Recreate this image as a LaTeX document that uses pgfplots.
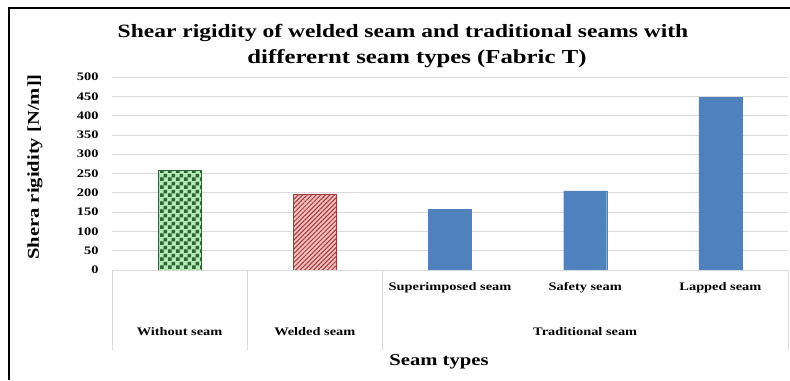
\documentclass[border=0pt]{standalone}
\usepackage{pgfplots}
\pgfplotsset{compat=1.18}
\usepackage{fontspec}
\setmainfont{Liberation Serif}[FakeStretch=1.25]
\usetikzlibrary{patterns,patterns.meta}
\pgfdeclarepatternformonly{bigchecker}{\pgfpointorigin}{\pgfqpoint{8bp}{8bp}}{\pgfqpoint{8bp}{8bp}}{%
 \pgfpathrectangle{\pgfpointorigin}{\pgfqpoint{4bp}{4bp}}%
 \pgfpathrectangle{\pgfqpoint{4bp}{4bp}}{\pgfqpoint{4bp}{4bp}}%
 \pgfusepath{fill}}
\definecolor{dgreen}{HTML}{2A6636}
\definecolor{lgreen}{HTML}{B5E8B5}
\definecolor{dred}{HTML}{9E3A3A}
\definecolor{pinkc}{HTML}{F5BDBD}
\definecolor{barblue}{HTML}{4F81BD}
\definecolor{gridc}{HTML}{D9D9D9}
\newcommand\fs[1]{\fontsize{#1bp}{#1bp}\selectfont\bfseries}
\begin{document}
\begin{tikzpicture}[x=1bp,y=1bp]
\path[use as bounding box] (0,0) rectangle (790,380);
\draw[line width=2.5bp] (9,0) -- (9,372) -- (790,372);
\node[font=\fs{18.8}] at (403,347) {Shear rigidity of welded seam and traditional seams with};
\node[font=\fs{19.8}] at (417,321) {differernt seam types (Fabric T)};
\node[font=\fs{16.5},rotate=90] at (35,213) {Shera rigidity [N/m]]};
\node[font=\fs{16.5}] at (439,18) {Seam types};
\begin{axis}[
  at={(112bp,110bp)}, anchor=south west,
  width=676bp, height=193bp, scale only axis,
  xmin=-0.5, xmax=4.5, ymin=0, ymax=500,
  ytick distance=50,
  xtick={0,1,2,3,4},
  xticklabels={,,Superimposed seam,Safety seam,Lapped seam},
  xticklabel style={anchor=center, yshift=-18bp, font=\fs{11.5}},
  yticklabel style={font=\fs{11.5}, xshift=-10bp, /pgf/number format/assume math mode=true},
  major tick length=0pt,
  axis line style={draw=none},
  ymajorgrids, grid style={gridc, line width=0.8bp},
  ybar, bar width=43bp, bar shift=0pt,
  clip=false,
]
\addplot[fill=lgreen, draw=dgreen, line width=0.6bp, postaction={pattern=bigchecker, pattern color=dgreen}] coordinates {(0,258)};
\addplot[fill=pinkc, draw=dred, line width=0.6bp, postaction={pattern={Lines[angle=45,distance=3.2bp,line width=1bp]}, pattern color=dred}] coordinates {(1,195)};
\addplot[fill=barblue, draw=barblue] coordinates {(2,158) (3,205) (4,448)};
\draw[gridc, line width=0.8bp] (axis cs:-0.5,0) -- (axis cs:4.5,0);
\draw[gridc, line width=0.8bp] (axis cs:-0.5,0) -- ([yshift=-80bp]axis cs:-0.5,0);
\draw[gridc, line width=0.8bp] (axis cs:0.5,0) -- ([yshift=-80bp]axis cs:0.5,0);
\draw[gridc, line width=0.8bp] (axis cs:1.5,0) -- ([yshift=-80bp]axis cs:1.5,0);
\draw[gridc, line width=0.8bp] (axis cs:4.5,0) -- ([yshift=-80bp]axis cs:4.5,0);
\node[font=\fs{11.5}] at (axis cs:0,0) [yshift=-62bp] {Without seam};
\node[font=\fs{11.5}] at (axis cs:1,0) [yshift=-62bp] {Welded seam};
\node[font=\fs{11.5}] at (axis cs:3,0) [yshift=-62bp] {Traditional seam};
\end{axis}
\end{tikzpicture}
\end{document}
